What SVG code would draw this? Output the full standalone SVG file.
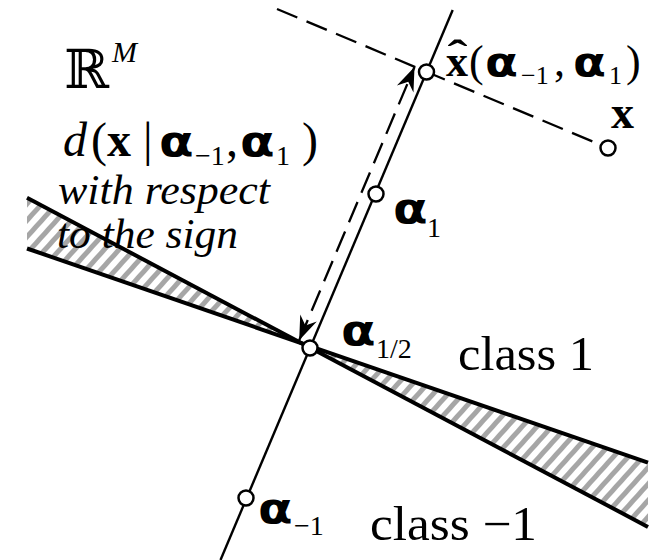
<svg xmlns="http://www.w3.org/2000/svg" width="657" height="560" viewBox="0 0 657 560">
<style>
.t{font-family:"Liberation Serif","Times New Roman",serif;fill:#000}
.b{font-weight:bold}
.i{font-style:italic}
.a{font-family:"DejaVu Sans","Liberation Sans",sans-serif;font-weight:bold;font-size:42px;fill:#000}
.s{font-size:28px}
.pt{fill:#fff;stroke:#000;stroke-width:2.5}
.solid{stroke:#000;stroke-width:2.4;fill:none}
.thick{stroke:#000;stroke-width:4;fill:none}
.dash{stroke:#000;stroke-width:2.3;fill:none;stroke-dasharray:22 10}
</style>
<defs>
<pattern id="hatch" width="11" height="11" patternUnits="userSpaceOnUse" patternTransform="rotate(42)">
<rect width="11" height="11" fill="#fff"/>
<rect width="5" height="11" fill="#a6a6a6"/>
</pattern>
<marker id="arr" viewBox="-26 -11 28 22" refX="0" refY="0" markerWidth="28" markerHeight="22" markerUnits="userSpaceOnUse" orient="auto-start-reverse">
<path d="M0,0 L-24,-9 L-16,0 L-24,9 Z" fill="#000"/>
</marker>
</defs>
<rect width="657" height="560" fill="#fff"/>
<g id="regions">
<polygon points="301,343 27,248.5 27,197.8" fill="url(#hatch)"/>
<polygon points="301,343 648,462.7 648,526.9" fill="url(#hatch)"/>
</g>
<g id="connectors">
<line class="thick" x1="27" y1="248.5" x2="648" y2="462.7"/>
<line class="thick" x1="27" y1="197.8" x2="648" y2="526.9"/>
<line class="solid" x1="220.5" y1="560" x2="452.7" y2="10"/>
<line class="dash" x1="277" y1="9" x2="608" y2="148"/>
<line class="dash" x1="299.2" y1="340.2" x2="414.5" y2="67" marker-start="url(#arr)" marker-end="url(#arr)"/>
</g>
<g id="space-label">
<text class="t" x="64" y="88" font-size="54" style="font-family:'DejaVu Serif','DejaVu Sans',serif">ℝ</text>
<text class="t i" x="112" y="62" font-size="30">M</text>
</g>
<g id="distance-label">
<text class="t" font-size="48" y="156"><tspan x="63" class="i">d</tspan><tspan x="91">(</tspan><tspan x="107" class="b">x</tspan><tspan x="143">|</tspan><tspan x="195" y="165" class="s">−1</tspan><tspan x="226" y="156">,</tspan><tspan x="276" y="165" class="s">1</tspan><tspan x="302" y="156">)</tspan></text>
<text class="a" transform="translate(159,156) scale(1.2,1)">α</text>
<text class="a" transform="translate(240,156) scale(1.2,1)">α</text>
<text class="t i" x="58" y="204" font-size="43" textLength="212" lengthAdjust="spacingAndGlyphs">with respect</text>
<text class="t i" x="57" y="248" font-size="43" textLength="181" lengthAdjust="spacingAndGlyphs">to the sign</text>
</g>
<g id="node-xhat">
<circle class="pt" cx="426.5" cy="72" r="7.5"/>
<text class="t b" x="457.5" y="68" font-size="40" text-anchor="middle" transform="translate(457.5,0) scale(1.5,1) translate(-457.5,0)">ˆ</text>
<text class="t" font-size="44" y="76"><tspan x="446" class="b">x</tspan><tspan x="469">(</tspan><tspan x="521" y="84" font-size="26">−1</tspan><tspan x="554" y="76">,</tspan><tspan x="609" y="84" font-size="26">1</tspan><tspan x="626" y="76">)</tspan></text>
<text class="a" font-size="40" style="font-size:40px" transform="translate(485,76) scale(1.2,1)">α</text>
<text class="a" style="font-size:40px" transform="translate(573,76) scale(1.2,1)">α</text>
</g>
<g id="node-x">
<circle class="pt" cx="608" cy="148" r="7.5"/>
<text class="t b" x="611" y="128" font-size="46">x</text>
</g>
<g id="node-alpha1">
<circle class="pt" cx="376" cy="194" r="7.5"/>
<text class="a" transform="translate(393,223) scale(1.2,1)">α</text>
<text class="t s" x="427" y="237">1</text>
</g>
<g id="node-alpha-half">
<circle class="pt" cx="310" cy="348" r="7.5"/>
<text class="a" transform="translate(341,345) scale(1.2,1)">α</text>
<text class="t s" x="376" y="358">1/2</text>
</g>
<g id="node-alpha-minus1">
<circle class="pt" cx="246" cy="498" r="7.5"/>
<text class="a" transform="translate(258,523) scale(1.2,1)">α</text>
<text class="t s" x="294" y="535">−1</text>
</g>
<g id="class-labels">
<text class="t" x="458" y="370" font-size="48" textLength="136" lengthAdjust="spacingAndGlyphs">class 1</text>
<text class="t" x="370" y="540" font-size="48" textLength="167" lengthAdjust="spacingAndGlyphs">class −1</text>
</g>
</svg>
